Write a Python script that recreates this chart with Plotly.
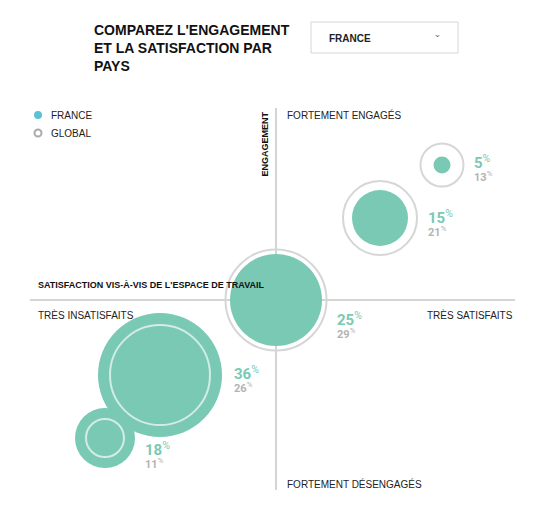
import plotly.graph_objects as go

# bubble data (pixel-space positions on a 545x517 canvas)
groups = ['très engagés', 'engagés', 'neutres', 'insatisfaits', 'très insatisfaits']
france_pct = [5, 15, 25, 36, 18]
global_pct = [13, 21, 29, 26, 11]
cx = [442, 380, 276, 160, 105]
cy = [165, 218, 300, 375, 438]
france_d = [17, 56, 92, 124, 60]
global_d = [43, 74, 101, 100, 38]
label_x = [472, 426, 335, 232, 143]
label_y = [164, 219, 321, 375, 451]

GREEN = '#79c9b5'
GRAY = '#b3b3b3'
RING = '#d6d6d6'

fig = go.Figure()
fig.add_trace(go.Scatter(
    x=cx, y=cy, mode='markers',
    marker=dict(size=global_d, color='rgba(0,0,0,0)', opacity=1, line=dict(color=RING, width=2)),
    hoverinfo='skip'))
fig.add_trace(go.Scatter(
    x=cx, y=cy, mode='markers',
    marker=dict(size=france_d, color=GREEN, opacity=1, line=dict(width=0)),
    hoverinfo='skip'))
# global rings drawn over the France bubble where they sit inside it
fig.add_trace(go.Scatter(
    x=[cx[3], cx[4]], y=[cy[3], cy[4]], mode='markers',
    marker=dict(size=[global_d[3], global_d[4]], color='rgba(0,0,0,0)', opacity=1,
                line=dict(color='#d3ece5', width=2)),
    hoverinfo='skip'))

shapes = [
    dict(type='line', x0=276, x1=276, y0=108, y1=490, line=dict(color='#aaaaaa', width=1), layer='below'),
    dict(type='line', x0=30, x1=515, y0=300, y1=300, line=dict(color='#aaaaaa', width=1), layer='below'),
    dict(type='rect', x0=311, x1=458, y0=22, y1=53, line=dict(color='#d6d6d6', width=1)),
]
ann = []
for i in range(len(groups)):
    ann.append(dict(x=label_x[i], y=label_y[i] - 2, text=f'<b>{france_pct[i]}</b><sup>%</sup>',
                    font=dict(size=15, color=GREEN, family='Roboto'), xanchor='left',
                    showarrow=False))
    ann.append(dict(x=label_x[i], y=label_y[i] + 12, text=f'<b>{global_pct[i]}</b><sup>%</sup>',
                    font=dict(size=11, color=GRAY, family='Roboto'), xanchor='left',
                    showarrow=False))

txt = dict(family='Arial', size=10, color='#222')
ann += [
    dict(x=92, y=20, text="<b>COMPAREZ L'ENGAGEMENT<br>ET LA SATISFACTION PAR<br>PAYS</b>",
         xanchor='left', yanchor='top', align='left', showarrow=False,
         font=dict(family='Arial', size=14, color='#111')),
    dict(x=327, y=38, text='<b>FRANCE</b>', xanchor='left', showarrow=False,
         font=dict(family='Arial', size=10, color='#222')),
    dict(x=437, y=40, text='ˇ', showarrow=False, font=dict(size=12, color='#777')),
    dict(x=49, y=115, text='FRANCE', xanchor='left', showarrow=False, font=txt),
    dict(x=49, y=133, text='GLOBAL', xanchor='left', showarrow=False, font=txt),
    dict(x=285, y=115, text='FORTEMENT ENGAGÉS', xanchor='left', showarrow=False, font=txt),
    dict(x=285, y=484, text='FORTEMENT DÉSENGAGÉS', xanchor='left', showarrow=False, font=txt),
    dict(x=36, y=315, text='TRÈS INSATISFAITS', xanchor='left', showarrow=False, font=txt),
    dict(x=515, y=315, text='TRÈS SATISFAITS', xanchor='right', showarrow=False, font=txt),
    dict(x=36, y=285, text='<b>SATISFACTION VIS-À-VIS DE L\'ESPACE DE TRAVAIL</b>', xanchor='left',
         showarrow=False, font=dict(family='Arial', size=9, color='#111')),
    dict(x=264, y=110, text='<b>ENGAGEMENT</b>', textangle=-90, yanchor='top', showarrow=False,
         font=dict(family='Arial', size=9, color='#111')),
]
# legend markers
fig.add_trace(go.Scatter(x=[38, 38], y=[115, 133], mode='markers',
                         marker=dict(size=[8, 7], color=['#5bc2d6', 'white'], opacity=1,
                                     line=dict(color=['#5bc2d6', '#aaaaaa'], width=[0, 2])),
                         hoverinfo='skip'))

# page body has an 8px margin: shift the ranges so the canvas lines up with the window
fig.update_layout(
    width=545, height=517, margin=dict(l=0, r=0, t=0, b=0),
    paper_bgcolor='white', plot_bgcolor='white', showlegend=False,
    xaxis=dict(range=[8, 553], visible=False, fixedrange=True),
    yaxis=dict(range=[525, 8], visible=False, fixedrange=True),
    shapes=shapes, annotations=ann,
)
fig.write_html('out.html')
